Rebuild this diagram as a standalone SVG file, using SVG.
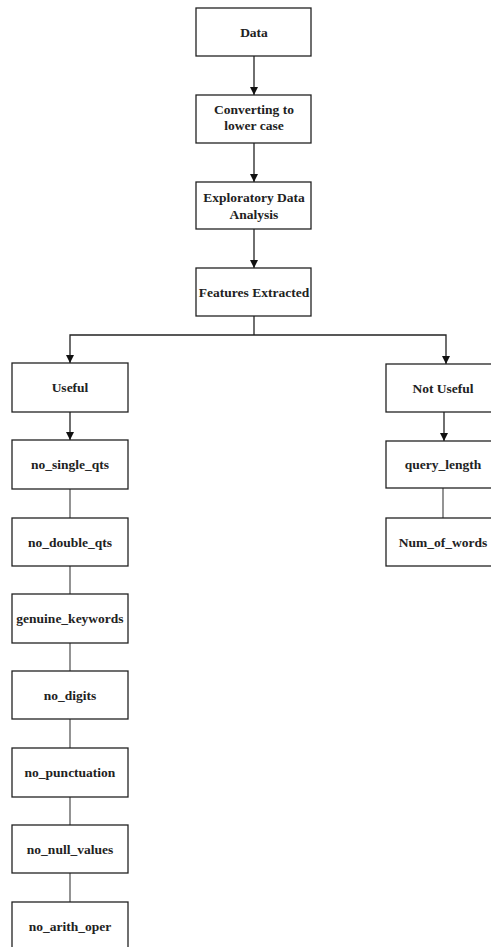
<svg xmlns="http://www.w3.org/2000/svg" width="491" height="947" viewBox="0 0 491 947">
  <defs>
    <marker id="arrow" viewBox="0 0 8 10" refX="8" refY="5" markerWidth="8" markerHeight="10" markerUnits="userSpaceOnUse" orient="auto">
      <path d="M0,1 L8,5 L0,9 Z" fill="#111"/>
    </marker>
  </defs>
  <style>
    .box { fill: #ffffff; stroke: #222; stroke-width: 1.3; }
    .label { font-family: "Liberation Serif", "Times New Roman", serif; font-weight: bold; font-size: 13.5px; fill: #222; text-anchor: middle; }
    .edge { fill: none; stroke: #222; stroke-width: 1.3; }
    .plain { fill: none; stroke: #666; stroke-width: 1.4; }
  </style>
  <rect width="491" height="947" fill="#ffffff"/>

  <!-- connectors -->
  <g id="connectors">
    <path class="edge" d="M254,56 V95" marker-end="url(#arrow)"/>
    <path class="edge" d="M254,143 V182" marker-end="url(#arrow)"/>
    <path class="edge" d="M254,229 V268" marker-end="url(#arrow)"/>
    <path class="edge" d="M254,316 V335"/>
    <path class="edge" d="M254,335 H70 V363" marker-end="url(#arrow)"/>
    <path class="edge" d="M254,335 H446 V364" marker-end="url(#arrow)"/>
    <path class="edge" d="M70,412 V440" marker-end="url(#arrow)"/>
    <path class="edge" d="M444,412 V441" marker-end="url(#arrow)"/>
    <path class="plain" d="M443,488 V518"/>
    <path class="plain" d="M70,489 V518"/>
    <path class="plain" d="M70,566 V594"/>
    <path class="plain" d="M70,643 V671"/>
    <path class="plain" d="M70,719 V748"/>
    <path class="plain" d="M70,797 V825"/>
    <path class="plain" d="M70,873 V902"/>
  </g>

  <!-- main chain -->
  <g id="data">
    <rect class="box" x="196" y="8" width="115" height="48"/>
    <text class="label" x="254" y="36.5">Data</text>
  </g>
  <g id="lowercase">
    <rect class="box" x="196" y="95" width="115" height="48"/>
    <text class="label" x="254" y="113.5">Converting to</text>
    <text class="label" x="254" y="130">lower case</text>
  </g>
  <g id="eda">
    <rect class="box" x="196" y="182" width="115" height="47"/>
    <text class="label" x="254" y="202">Exploratory Data</text>
    <text class="label" x="254" y="218.5">Analysis</text>
  </g>
  <g id="features">
    <rect class="box" x="196" y="268" width="115" height="48"/>
    <text class="label" x="254" y="296.5">Features Extracted</text>
  </g>

  <!-- useful branch -->
  <g id="useful">
    <rect class="box" x="12" y="363" width="116" height="49"/>
    <text class="label" x="70" y="392">Useful</text>
  </g>
  <g id="no_single_qts">
    <rect class="box" x="12" y="440" width="116" height="49"/>
    <text class="label" x="70" y="469">no_single_qts</text>
  </g>
  <g id="no_double_qts">
    <rect class="box" x="12" y="518" width="116" height="48"/>
    <text class="label" x="70" y="546.5">no_double_qts</text>
  </g>
  <g id="genuine_keywords">
    <rect class="box" x="12" y="594" width="116" height="49"/>
    <text class="label" x="70" y="623">genuine_keywords</text>
  </g>
  <g id="no_digits">
    <rect class="box" x="12" y="671" width="116" height="48"/>
    <text class="label" x="70" y="699.5">no_digits</text>
  </g>
  <g id="no_punctuation">
    <rect class="box" x="12" y="748" width="116" height="49"/>
    <text class="label" x="70" y="777">no_punctuation</text>
  </g>
  <g id="no_null_values">
    <rect class="box" x="12" y="825" width="116" height="48"/>
    <text class="label" x="70" y="853.5">no_null_values</text>
  </g>
  <g id="no_arith_oper">
    <rect class="box" x="12" y="902" width="116" height="49"/>
    <text class="label" x="70" y="930.5">no_arith_oper</text>
  </g>

  <!-- not useful branch -->
  <g id="not_useful">
    <rect class="box" x="386" y="364" width="118" height="48"/>
    <text class="label" x="443" y="392.5">Not Useful</text>
  </g>
  <g id="query_length">
    <rect class="box" x="386" y="441" width="118" height="47"/>
    <text class="label" x="443" y="469">query_length</text>
  </g>
  <g id="num_of_words">
    <rect class="box" x="386" y="518" width="118" height="48"/>
    <text class="label" x="443" y="546.5">Num_of_words</text>
  </g>
</svg>
